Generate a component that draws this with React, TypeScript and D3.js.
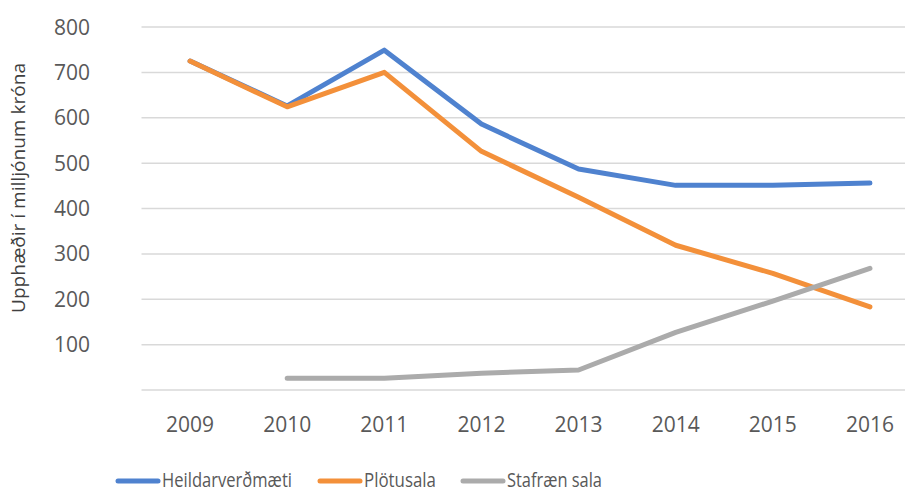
import React from "react";
import * as d3 from "d3";

const years = ["2009", "2010", "2011", "2012", "2013", "2014", "2015", "2016"];
const heildar: (number | null)[] = [725, 626, 749, 586, 487, 451, 451, 456];
const plotusala: (number | null)[] = [725, 624, 700, 526, 425, 319, 257, 183];
const stafraen: (number | null)[] = [null, 26, 26, 37, 44, 127, 196, 268];
const yTicks = [100, 200, 300, 400, 500, 600, 700, 800];
const seriesNames = ["Heildarverðmæti", "Plötusala", "Stafræn sala"];
const colors = ["#4F82CF", "#F3903A", "#ABABAB"];

export default function App() {
  const W = 905, H = 494;
  const x = d3.scaleBand<string>().domain(years).range([141.5, 918.5]);
  const y = d3.scaleLinear().domain([0, 800]).range([390, 27]);
  const line = d3
    .line<number | null>()
    .defined((d) => d != null)
    .x((_, i) => (x(years[i]) as number) + x.bandwidth() / 2)
    .y((d) => y(d as number));
  const data = [heildar, plotusala, stafraen];
  const font = "'Open Sans', sans-serif";
  const legendX = [118, 320, 463];
  const legendLen = [130, 72, 95];
  return (
    <svg width={W} height={H} style={{ position: "absolute", left: 0, top: 0 }}>
      <rect width={W} height={H} fill="#fff" />
      {[0, ...yTicks].map((t) => (
        <line key={t} x1={141.5} x2={W} y1={y(t)} y2={y(t)} stroke="#D9D9D9" strokeWidth={1.5} />
      ))}
      {yTicks.map((t) => (
        <text key={t} x={90} y={y(t)} dy="0.36em" textAnchor="end" fontFamily={font} fontSize={21} fill="#595959">
          {t}
        </text>
      ))}
      {years.map((yr) => (
        <text key={yr} x={(x(yr) as number) + x.bandwidth() / 2} y={432} textAnchor="middle" fontFamily={font} fontSize={21} fill="#595959">
          {yr}
        </text>
      ))}
      <text
        transform={`translate(25,188) rotate(-90)`}
        textAnchor="middle"
        fontFamily={font}
        fontSize={17.5}
        textLength={250}
        lengthAdjust="spacingAndGlyphs"
        fill="#404040"
      >
        Upphæðir í milljónum króna
      </text>
      {data.map((d, i) => (
        <path key={i} d={line(d) || ""} fill="none" stroke={colors[i]} strokeWidth={5} strokeLinejoin="round" strokeLinecap="round" />
      ))}
      {seriesNames.map((n, i) => (
        <g key={n}>
          <line x1={legendX[i]} x2={legendX[i] + 40} y1={481} y2={481} stroke={colors[i]} strokeWidth={5} strokeLinecap="round" />
          <text
            x={legendX[i] + 44}
            y={487}
            fontFamily={font}
            fontSize={20}
            textLength={legendLen[i]}
            lengthAdjust="spacingAndGlyphs"
            fill="#595959"
          >
            {n}
          </text>
        </g>
      ))}
    </svg>
  );
}
